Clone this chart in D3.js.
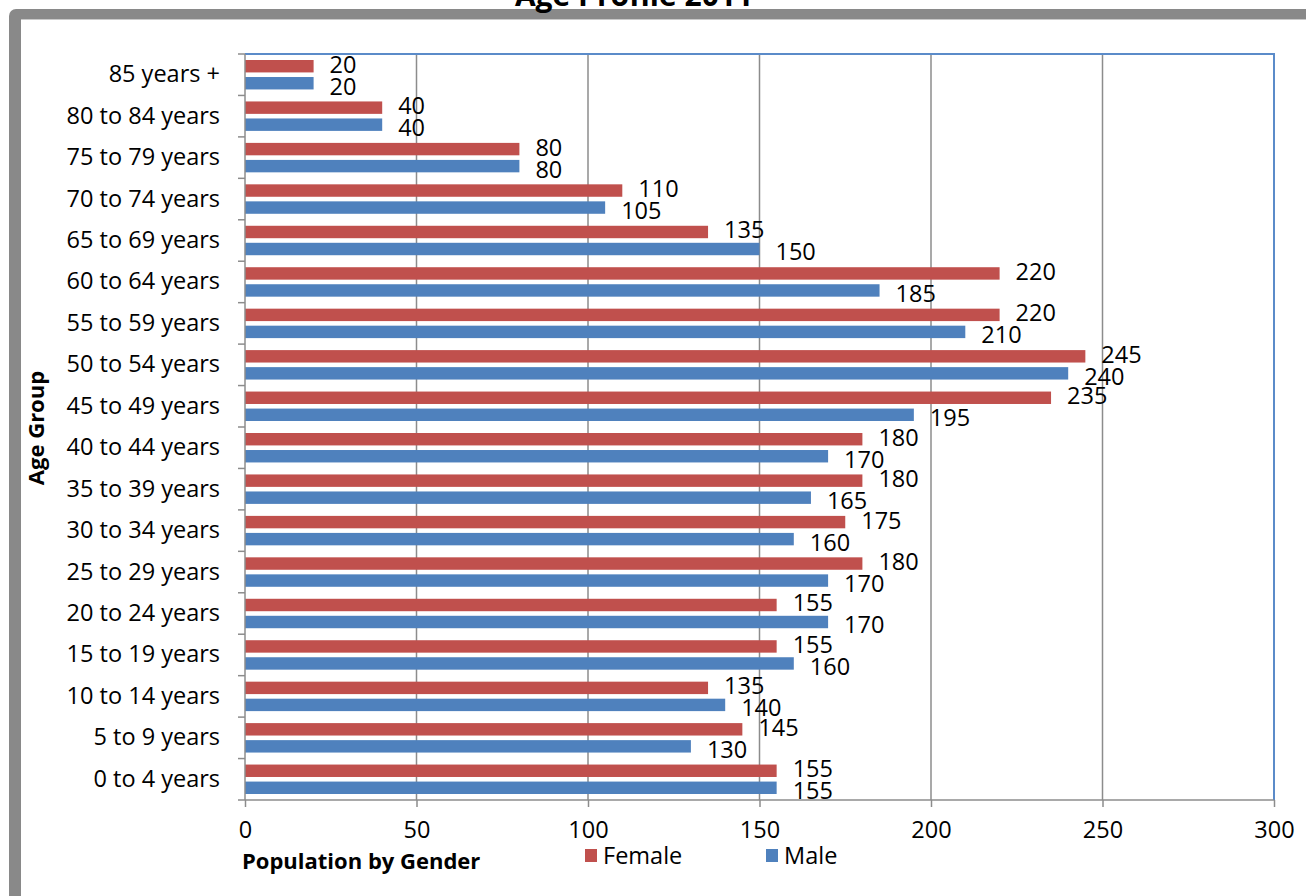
<!DOCTYPE html>
<meta charset="utf-8">
<body style="margin: 0; overflow: hidden; background: #fff">
<script src="https://d3js.org/d3.v7.min.js"></script>
<script>
    // age groups, top to bottom as drawn
    var ageGroups = ["85 years +", "80 to 84 years", "75 to 79 years", "70 to 74 years",
        "65 to 69 years", "60 to 64 years", "55 to 59 years", "50 to 54 years",
        "45 to 49 years", "40 to 44 years", "35 to 39 years", "30 to 34 years",
        "25 to 29 years", "20 to 24 years", "15 to 19 years", "10 to 14 years",
        "5 to 9 years", "0 to 4 years"];
    var female = [20, 40, 80, 110, 135, 220, 220, 245, 235, 180, 180, 175, 180, 155, 155, 135, 145, 155];
    var male = [20, 40, 80, 105, 150, 185, 210, 240, 195, 170, 165, 160, 170, 170, 160, 140, 130, 155];
    var seriesNames = ["Female", "Male"];
    var xTicks = [0, 50, 100, 150, 200, 250, 300];

    var width = 1306, height = 896;
    var font = "'Open Sans', sans-serif";
    var colors = {Female: "#c0504d", Male: "#4f81bd"};

    var plot = {left: 245, right: 1274, top: 54, bottom: 800};

    var svg = d3.select("body").append("svg")
        .attr("width", width)
        .attr("height", height)
        .style("display", "block");

    // grey frame round the chart, only top and left edges show
    svg.append("rect")
        .attr("x", 9).attr("y", 9)
        .attr("width", 1400).attr("height", 1000)
        .attr("rx", 7)
        .attr("fill", "#898989");
    svg.append("rect")
        .attr("x", 21).attr("y", 19)
        .attr("width", 1400).attr("height", 1000)
        .attr("fill", "#fff");
    svg.append("line")
        .attr("x1", 21).attr("x2", width)
        .attr("y1", 19.5).attr("y2", 19.5)
        .attr("stroke", "#c9c9c9").attr("stroke-width", 1);

    // title, mostly cut off at the top
    svg.append("text")
        .attr("x", 634).attr("y", 6)
        .attr("text-anchor", "middle")
        .style("font-family", font)
        .style("font-size", "30px")
        .style("font-weight", "bold")
        .text("Age Profile 2011");

    var x = d3.scaleLinear().domain([0, 300]).range([plot.left, plot.right]);
    var y = d3.scaleBand().domain(ageGroups).range([plot.top, plot.bottom]);
    var inner = d3.scaleBand().domain(seriesNames)
        .range([6, y.bandwidth() - 6])
        .paddingInner(0.27);

    // vertical gridlines
    svg.append("g").selectAll("line")
        .data(xTicks.filter(function (d) { return d > 0 && d < 300; }))
        .join("line")
        .attr("x1", function (d) { return x(d); })
        .attr("x2", function (d) { return x(d); })
        .attr("y1", plot.top).attr("y2", plot.bottom)
        .attr("stroke", "#8c8c8c").attr("stroke-width", 1.5);

    // plot area outline (top and right show blue)
    svg.append("path")
        .attr("d", "M" + plot.left + "," + plot.top + "H" + plot.right + "V" + plot.bottom)
        .attr("fill", "none")
        .attr("stroke", "#5b8bc9").attr("stroke-width", 2);

    // bars
    var rows = ageGroups.map(function (g, i) {
        return {group: g, values: [{s: "Female", v: female[i]}, {s: "Male", v: male[i]}]};
    });

    var rowG = svg.append("g").selectAll("g")
        .data(rows)
        .join("g")
        .attr("transform", function (d) { return "translate(0," + y(d.group) + ")"; });

    rowG.selectAll("rect")
        .data(function (d) { return d.values; })
        .join("rect")
        .attr("x", x(0))
        .attr("y", function (d) { return inner(d.s); })
        .attr("width", function (d) { return x(d.v) - x(0); })
        .attr("height", inner.bandwidth())
        .attr("fill", function (d) { return colors[d.s]; });

    rowG.selectAll("text")
        .data(function (d) { return d.values; })
        .join("text")
        .attr("x", function (d) { return x(d.v) + 16; })
        .attr("y", function (d) { return inner(d.s) + inner.bandwidth() / 2 + (d.s === "Female" ? -2 : 3); })
        .attr("dy", "0.36em")
        .style("font-family", font)
        .style("font-size", "23.5px")
        .text(function (d) { return d.v; });

    // x axis
    var xAxis = svg.append("g")
        .attr("transform", "translate(0," + plot.bottom + ")")
        .call(d3.axisBottom(x).tickValues(xTicks).tickSize(7).tickPadding(14));
    xAxis.select(".domain").attr("d", "M238,0H" + plot.right);
    xAxis.selectAll("line, path").attr("stroke", "#8c8c8c").attr("stroke-width", 1.5);
    xAxis.selectAll("text")
        .attr("fill", "#000")
        .style("font-family", font)
        .style("font-size", "23.5px");

    // y axis: ticks sit on category boundaries
    var yAxis = svg.append("g")
        .attr("transform", "translate(" + plot.left + ",0)")
        .call(d3.axisLeft(y).tickSize(0).tickPadding(25));
    yAxis.select(".domain").remove();
    yAxis.selectAll("text")
        .attr("fill", "#000")
        .style("font-family", font)
        .style("font-size", "23.5px");
    svg.append("line")
        .attr("x1", plot.left).attr("x2", plot.left)
        .attr("y1", plot.top).attr("y2", plot.bottom)
        .attr("stroke", "#8c8c8c").attr("stroke-width", 1.5);
    svg.append("g").selectAll("line")
        .data(ageGroups)
        .join("line")
        .attr("x1", plot.left - 7).attr("x2", plot.left)
        .attr("y1", function (d) { return y(d); })
        .attr("y2", function (d) { return y(d); })
        .attr("stroke", "#8c8c8c").attr("stroke-width", 1.5);

    // axis titles
    svg.append("text")
        .attr("transform", "translate(44,428) rotate(-90)")
        .attr("text-anchor", "middle")
        .style("font-family", font)
        .style("font-size", "22px")
        .style("font-weight", "bold")
        .text("Age Group");

    svg.append("text")
        .attr("x", 242).attr("y", 869)
        .style("font-family", font)
        .style("font-size", "22px")
        .style("font-weight", "bold")
        .text("Population by Gender");

    // legend
    var legendX = {Female: 585, Male: 766};
    var legend = svg.append("g").selectAll("g")
        .data(seriesNames)
        .join("g")
        .attr("transform", function (d) { return "translate(" + legendX[d] + ",849)"; });
    legend.append("rect")
        .attr("width", 12).attr("height", 13)
        .attr("fill", function (d) { return colors[d]; });
    legend.append("text")
        .attr("x", 18).attr("y", 7)
        .attr("dy", "0.36em")
        .style("font-family", font)
        .style("font-size", "23.5px")
        .text(function (d) { return d; });
</script>
